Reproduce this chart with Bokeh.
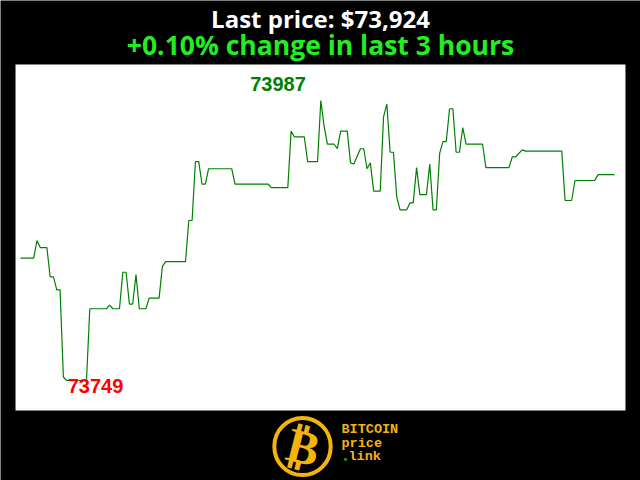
from bokeh.plotting import figure
from bokeh.models import Range1d, Label, BoxAnnotation
from bokeh.embed import file_html
from bokeh.resources import INLINE

# ---- data (minutes since start, price in USD) ----
minutes = [0, 4, 5, 6, 8, 9, 10, 11, 12, 13, 14, 20, 21, 26, 27, 28, 30, 31, 32, 33,
           34, 35, 36, 38, 39, 42, 43, 44, 50, 51, 52, 53, 54, 55, 56, 57, 58, 64, 65, 75,
           76, 81, 82, 83, 86, 87, 90, 91, 92, 93, 95, 96, 97, 99, 100, 101, 103, 104, 105, 106,
           107, 109, 110, 111, 112, 113, 114, 115, 117, 118, 119, 120, 121, 123, 124, 125, 126, 127, 128, 129,
           130, 131, 132, 133, 134, 135, 140, 141, 148, 149, 150, 152, 153, 164, 165, 167, 168, 174, 175, 180]
prices = [73853, 73853, 73868, 73862, 73862, 73837, 73837, 73826, 73826, 73752, 73749, 73749, 73810, 73810, 73813, 73810, 73810, 73841, 73841, 73814,
          73814, 73839, 73810, 73810, 73819, 73819, 73846, 73850, 73850, 73885, 73885, 73935, 73935, 73916, 73916, 73929, 73929, 73929, 73916, 73916,
          73913, 73913, 73961, 73956, 73956, 73935, 73935, 73987, 73965, 73950, 73950, 73946, 73961, 73961, 73934, 73933, 73946, 73946, 73929, 73934,
          73910, 73910, 73973, 73984, 73943, 73943, 73905, 73894, 73894, 73900, 73900, 73930, 73907, 73907, 73933, 73894, 73894, 73942, 73952, 73952,
          73980, 73980, 73943, 73943, 73964, 73950, 73950, 73930, 73930, 73939, 73939, 73945, 73944, 73944, 73902, 73902, 73919, 73919, 73924, 73924]
hours = 3
title_text = "Last price: ${:,}".format(prices[-1])
change = (prices[-1] - prices[0]) / prices[0] * 100
subtitle_text = "{:+.2f}% change in last {} hours".format(change, hours)

# chart panel extent (data units) and the full canvas extent around it
panel_x = (-1.5, 183.3)
panel_y = (73723.5, 74017.6)

p = figure(width=640, height=480, output_backend="svg", toolbar_location=None,
           x_range=Range1d(-6.05, 187.85), y_range=Range1d(73664.0, 74072.0),
           title_location=None, x_axis_location=None, y_axis_location=None,
           min_border_left=0, min_border_right=0, min_border_bottom=0, min_border_top=0)
p.border_fill_color = "black"
p.background_fill_color = "black"
p.outline_line_color = None
p.grid.visible = False

p.add_layout(BoxAnnotation(left=panel_x[0], right=panel_x[1], bottom=panel_y[0], top=panel_y[1],
                           fill_color="white", fill_alpha=1.0, line_color=None, level="underlay"))

p.line(minutes, prices, line_color="#008000", line_width=1.2)

imax = prices.index(max(prices))
imin = prices.index(min(prices))
p.add_layout(Label(x=minutes[imax], y=prices[imax], text=str(prices[imax]),
                   text_align="right", text_baseline="alphabetic", x_offset=-15, y_offset=17,
                   text_color="#008000", text_font="Liberation Sans", text_font_style="bold",
                   text_font_size="20px"))
p.add_layout(Label(x=minutes[imin], y=prices[imin], text=str(prices[imin]),
                   text_align="left", text_baseline="alphabetic", x_offset=1, y_offset=-5,
                   text_color="red", text_font="Liberation Sans", text_font_style="bold",
                   text_font_size="20px"))

# ---- titles ----
p.add_layout(Label(x=320, y=462, x_units="screen", y_units="screen", text=title_text,
                   text_align="center", text_baseline="alphabetic", text_color="white",
                   text_font="Open Sans", text_font_style="bold", text_font_size="24px"))
p.add_layout(Label(x=320, y=436, x_units="screen", y_units="screen", text=subtitle_text,
                   text_align="center", text_baseline="alphabetic", text_color="#22ee22",
                   text_font="Open Sans", text_font_style="bold", text_font_size="26.5px"))

# ---- logo below the chart ----
gold = "#f4b40c"
p.add_layout(Label(x=303, y=34, x_units="screen", y_units="screen", text="\u20bf",
                   text_align="center", text_baseline="middle", angle=-0.25,
                   text_color=gold, text_font="DejaVu Sans", text_font_style="bold",
                   text_font_size="48px"))
p.add_layout(Label(x=302, y=34, x_units="screen", y_units="screen", text=" ",
                   text_align="center", text_baseline="middle",
                   text_font_size="1px", padding=28, border_radius=29,
                   border_line_color=gold, border_line_width=4))
mono = dict(x_units="screen", y_units="screen", text_color=gold, text_font="Liberation Mono",
            text_font_style="bold", text_font_size="13.5px", text_baseline="alphabetic")
p.add_layout(Label(x=341, y=51, text="BITCOIN", **mono))
p.add_layout(Label(x=341, y=37, text="price", **mono))
p.add_layout(Label(x=348, y=24, text="link", **mono))
p.add_layout(Label(x=345, y=21, x_units="screen", y_units="screen", text="\u2022",
                   text_color="#1a9a1a", text_font="DejaVu Sans", text_font_size="11px",
                   text_baseline="middle", text_align="center"))

open("out.html", "w").write(file_html(p, INLINE))
